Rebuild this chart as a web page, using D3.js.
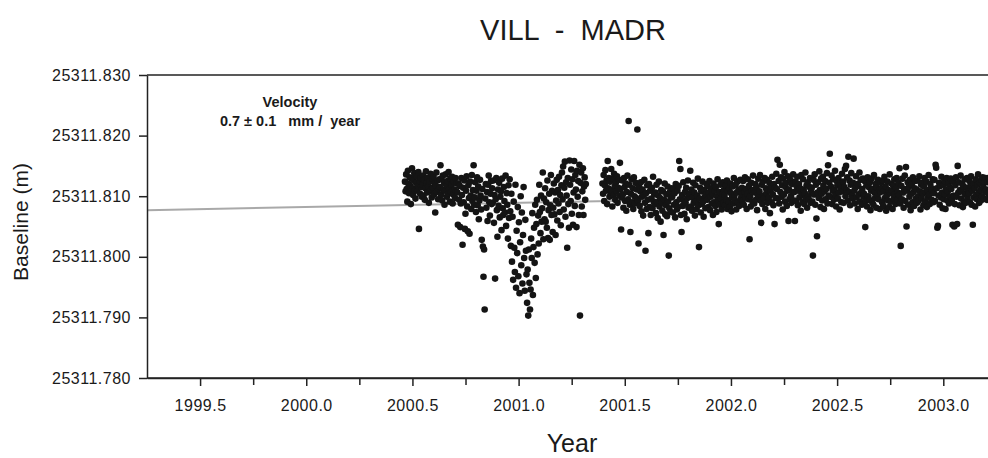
<!DOCTYPE html>
<html>
<head>
    <meta http-equiv="Content-Type" content="text/html; charset=utf-8" />
    <title>VILL - MADR</title>
    <script src="https://d3js.org/d3.v7.min.js"></script>
    <style>
        body { margin: 0; background: #fff; }
        text { font-family: "Liberation Sans", Arial, sans-serif; fill: #1a1a1a; }
    </style>
</head>
<body>
    <script>
        // baseline values are stored as mm above 25311.800 m, one value per daily solution
        var base = 25311.800;
        var seg1Start = 2000.465;
        var seg1 = [
            12.4, 10.8, 13.6, 11.2, 9.1, 14.2, 12.0, 10.5, 13.1, 11.7, 8.7, 12.9, 14.6, 11.3, 10.2, 12.6, 13.8, 11.0, 9.6, 12.2, 13.3, 10.9, 11.8, 14.0, 4.6, 12.5, 10.4, 13.0, 11.5, 9.9,
            11.9, 13.4, 10.1, 12.7, 9.4, 11.3, 14.1, 12.2, 10.6, 13.0, 11.6, 8.9, 12.4, 10.8, 13.7, 11.1, 9.8, 12.9, 11.4, 13.3, 10.3, 12.1, 7.3, 11.7, 13.9, 10.7, 12.6, 9.5, 11.2, 12.8,
            11.5, 15.1, 10.2, 12.8, 9.3, 13.4, 11.0, 12.2, 8.6, 10.9, 13.6, 11.8, 9.9, 12.5, 10.4, 14.0, 11.2, 9.1, 12.9, 10.7, 11.9, 13.2, 8.8, 10.3, 12.4, 11.1, 9.7, 13.0, 10.8, 12.1,
            10.6, 5.3, 12.1, 9.4, 11.7, 4.9, 8.8, 13.0, 10.2, 2.0, 11.4, 9.0, 12.6, 4.6, 7.1, 10.9, 13.3, 8.3, 4.2, 11.8, 9.7, 3.8, 12.4, 10.1, 7.9, 13.5, 9.2, 11.0, 15.1, 8.6,
            9.8, 12.3, 7.4, 10.9, 13.1, 8.5, 11.6, 6.2, 9.3, 12.7, 10.1, 7.8, 2.8, 11.2, 1.7, -3.3, 1.2, -8.7, 9.6, 12.0, 8.1, 10.7, 5.9, 11.9, 13.4, 9.0, 6.8, 10.4, 12.5, 8.7,
            11.3, 8.9, 12.6, 5.6, 10.2, -3.6, 9.5, 13.0, 7.7, 3.3, 11.1, 8.4, 12.2, 6.5, 9.9, 10.8, 4.4, 12.9, 8.0, 6.9, 11.5, 9.2, 7.3, 13.4, 5.1, 10.5, 8.6, 3.0, 11.8, 6.4,
            12.8, 7.5, 1.8, 10.4, -0.8, 6.6, -3.8, 9.1, 1.5, -2.5, 11.9, -5.1, 4.3, 0.6, 8.2, -3.2, 5.7, -6.0, 2.4, 10.0, -1.4, 7.3, -4.4, 3.6, 11.5, -0.2, -5.6, 6.1, 1.0, -2.9,
            -7.6, -2.1, -9.7, 1.2, -4.3, -8.7, -5.4, 3.0, -0.2, 7.2, -6.3, 1.6, 4.8, -1.0, 8.6, -3.5, 5.4, 9.4, 0.4, 6.8, 2.2, 11.9, 7.4, 3.9, 10.1, 5.8, 8.0, 13.9, 2.9, 9.6,
            6.2, 11.3, 5.8, 9.0, 4.8, 12.6, 3.1, 7.7, 10.4, 2.8, 8.5, 13.5, 6.9, 10.9, 4.1, 8.1, 12.1, 7.0, 10.6, 3.6, 9.3, 12.7, 6.0, 11.0, 8.8, 13.2, 7.4, 10.2, 5.2, 11.8,
            13.9, 9.5, 14.9, 7.8, 11.4, 15.7, 6.6, 12.3, 10.1, 1.5, 13.0, 8.7, 4.8, 15.9, 11.9, 9.2, 14.4, 7.1, 12.8, 5.3, 10.6, 15.8, 8.4, 13.5, 11.1, 4.9, 14.2, 9.9, 12.5, 6.9,
            15.2, -9.7, 12.2, 13.9, 8.3, 10.8, 14.6, 6.9, 11.6, 13.1, 9.4, 12.0
        ];
        var seg2Start = 2001.395;
        var seg2 = [
            12.1, 10.4, 13.5, 9.2, 11.8, 14.3, 10.9, 12.6, 8.7, 15.8, 11.3, 13.0, 9.9, 12.4, 10.6, 14.5, 11.0, 8.3, 12.9, 10.2, 13.7, 11.6, 9.4, 12.2, 10.8, 13.3, 8.9, 11.4, 12.7, 10.1,
            15.5, 11.2, 4.5, 9.8, 12.6, 10.3, 8.1, 13.0, 11.5, 9.2, 12.1, 7.6, 10.7, 13.4, 9.5, 22.4, 11.9, 8.6, 4.1, 10.4, 12.8, 9.0, 11.3, 7.9, 13.1, 10.0, 8.8, 12.2, 9.7, 11.1,
            21.0, 9.3, 2.2, 11.6, 8.4, 10.8, 12.3, 7.5, 9.9, 11.1, 6.8, 10.2, 12.7, 8.9, 1.0, 10.5, 7.9, 11.8, 9.4, 3.9, 12.0, 8.2, 10.9, 6.9, 9.6, 11.4, 8.0, 13.2, 9.1, 10.3,
            8.7, 10.6, 7.2, 11.9, 9.0, 6.4, 10.1, 12.4, 8.3, 9.7, 5.8, 11.0, 8.9, 7.6, 10.8, 3.6, 9.4, 12.1, 7.0, 8.5, 10.3, 6.7, 11.6, 9.1, 0.2, 8.0, 10.7, 7.4, 9.8, 11.3,
            9.9, 7.3, 11.2, 8.6, 10.5, 6.5, 12.0, 9.0, 7.8, 10.9, 8.2, 11.7, 15.8, 9.5, 14.5, 6.9, 4.1, 10.2, 8.4, 12.3, 9.3, 7.1, 10.7, 8.9, 11.4, 6.2, 9.7, 12.6, 8.1, 10.0,
            10.4, 14.2, 8.3, 11.1, 7.6, 9.8, 12.2, 8.9, 10.6, 6.8, 11.8, 9.2, 7.9, 10.1, 12.9, 8.5, 1.6, 9.6, 11.4, 7.3, 10.8, 8.7, 12.4, 9.1, 6.6, 11.0, 9.9, 8.0, 10.3, 12.0,
            9.4, 11.7, 8.2, 10.6, 12.5, 7.7, 9.9, 11.2, 8.8, 10.3, 6.9, 12.1, 9.0, 10.9, 8.4, 11.5, 7.4, 10.0, 12.8, 9.3, 5.4, 10.7, 8.6, 11.9, 9.6, 7.8, 10.4, 12.3, 8.9, 11.0,
            10.2, 8.5, 11.8, 9.4, 12.6, 7.9, 10.8, 9.1, 11.3, 8.2, 12.1, 10.5, 7.5, 9.8, 11.6, 8.8, 13.0, 10.1, 9.3, 11.9, 7.8, 10.6, 12.4, 9.0, 11.1, 8.4, 10.9, 12.7, 9.6, 10.3,
            11.4, 9.2, 12.5, 8.6, 10.7, 13.1, 9.8, 11.2, 7.9, 10.4, 12.8, 9.5, 11.7, 2.9, 10.0, 8.3, 12.2, 10.9, 9.1, 13.4, 11.0, 8.8, 10.6, 12.0, 9.4, 11.5, 7.7, 10.2, 12.9, 9.9,
            10.8, 13.5, 9.3, 5.6, 11.9, 8.7, 12.4, 10.1, 9.6, 13.0, 7.9, 11.3, 10.5, 12.7, 8.9, 11.0, 9.8, 12.2, 7.2, 10.9, 11.6, 9.0, 13.2, 10.3, 8.5, 12.0, 5.4, 11.4, 9.7, 13.7,
            11.2, 16.0, 9.6, 12.5, 8.8, 15.2, 10.7, 13.1, 9.9, 11.8, 7.8, 12.9, 10.3, 14.0, 9.1, 11.5, 12.2, 8.4, 10.9, 13.3, 5.9, 11.1, 9.5, 12.7, 10.0, 8.9, 12.0, 10.6, 13.6, 9.3,
            10.7, 5.9, 12.4, 9.2, 11.6, 13.2, 8.5, 10.9, 12.0, 9.8, 11.3, 7.6, 13.5, 10.2, 9.0, 12.8, 11.1, 8.7, 10.5, 13.9, 9.6, 11.8, 8.1, 12.3, 10.0, 9.4, 11.5, 13.0, 8.9, 10.8,
            11.4, 9.1, 0.2, 12.7, 10.3, 13.6, 8.6, 11.9, 6.3, 3.4, 10.6, 12.3, 9.7, 14.1, 11.0, 8.2, 12.9, 10.4, 9.3, 13.2, 11.7, 7.9, 10.8, 12.5, 9.5, 11.2, 13.8, 8.8, 15.1, 10.1,
            12.2, 17.0, 9.9, 11.6, 13.4, 8.7, 10.9, 12.8, 9.4, 11.1, 14.2, 10.2, 8.3, 12.5, 11.8, 9.6, 13.0, 10.6, 7.8, 12.1, 11.3, 9.0, 13.7, 10.8, 12.4, 8.9, 11.5, 14.5, 10.0, 15.0,
            11.0, 13.1, 9.3, 16.5, 10.7, 12.6, 8.5, 11.9, 13.8, 10.1, 9.6, 12.2, 16.2, 10.9, 8.8, 11.4, 13.3, 9.8, 12.0, 7.9, 11.7, 10.3, 13.9, 9.1, 12.7, 10.6, 8.6, 11.2, 12.9, 9.9,
            10.4, 12.5, 4.9, 9.2, 11.8, 8.3, 13.1, 10.0, 11.5, 9.4, 12.3, 7.7, 10.9, 12.9, 9.0, 11.2, 8.6, 13.5, 10.6, 9.7, 12.0, 8.1, 11.4, 10.2, 12.7, 9.5, 11.0, 7.9, 10.7, 12.2,
            11.3, 9.0, 12.6, 8.4, 10.8, 13.2, 9.7, 11.6, 7.6, 10.1, 12.4, 9.3, 11.0, 8.2, 13.6, 10.5, 9.1, 12.1, 10.9, 7.9, 11.8, 9.6, 12.8, 10.3, 8.7, 11.4, 13.0, 9.4, 10.6, 12.2,
            10.2, 14.6, 8.8, 1.8, 11.7, 9.5, 12.9, 10.6, 8.1, 11.2, 13.4, 9.2, 14.8, 5.0, 10.9, 12.3, 8.6, 11.5, 9.9, 12.7, 7.7, 10.4, 11.9, 9.0, 13.1, 10.7, 8.4, 11.3, 12.5, 9.6,
            11.1, 8.9, 12.6, 10.0, 9.3, 13.3, 10.8, 7.8, 11.9, 9.7, 12.2, 10.4, 8.5, 11.6, 13.0, 9.1, 10.7, 12.4, 8.2, 11.0, 9.8, 13.5, 10.3, 8.7, 12.0, 11.4, 9.4, 10.9, 12.8, 9.0,
            10.5, 12.7, 9.2, 15.2, 14.7, 11.3, 4.8, 5.1, 10.1, 12.2, 8.6, 11.7, 9.8, 13.2, 10.6, 8.0, 11.9, 9.5, 12.5, 10.3, 7.9, 11.1, 13.0, 9.3, 10.8, 12.1, 8.8, 11.5, 9.9, 12.9,
            11.2, 9.4, 5.3, 12.4, 10.1, 5.0, 8.7, 11.8, 13.1, 9.9, 5.4, 15.0, 10.6, 12.3, 8.5, 11.0, 13.4, 9.6, 10.8, 12.0, 8.2, 11.6, 9.1, 12.8, 10.3, 8.9, 11.4, 13.0, 9.7, 10.9,
            10.4, 12.5, 9.0, 11.7, 13.3, 8.6, 10.9, 5.3, 12.1, 9.8, 11.3, 8.3, 12.8, 10.2, 9.5, 11.9, 13.6, 10.6, 8.9, 12.2, 11.0, 9.3, 12.7, 10.0, 13.1, 11.5, 9.6, 12.4, 10.8, 13.0,
            11.1, 9.4, 12.3, 10.5, 13.0, 9.8
        ];

        // straight-line fit (0.7 mm / year)
        var trendYears = [1999.25, 2003.3];
        var trendValues = [25311.8077, 25311.8105];

        var yTicks = [25311.780, 25311.790, 25311.800, 25311.810, 25311.820, 25311.830];
        var xMajor = [1999.5, 2000.0, 2000.5, 2001.0, 2001.5, 2002.0, 2002.5, 2003.0];
        var xMinor = [1999.75, 2000.25, 2000.75, 2001.25, 2001.75, 2002.25, 2002.75];

        var title = "VILL  -  MADR";
        var velocityLines = ["Velocity", "0.7 \u00b1 0.1   mm /  year"];

        var w = 988;
        var h = 458;
        var padL = 147, padT = 75, padR = 1007, padB = 378;

        var points = [];
        seg1.forEach(function (v, i) { points.push({ t: seg1Start + i / 365.25, v: base + v / 1000 }); });
        seg2.forEach(function (v, i) { points.push({ t: seg2Start + i / 365.25, v: base + v / 1000 }); });

        var x = d3.scaleLinear().domain([1999.25, 2003.3]).range([padL, padR]);
        var y = d3.scaleLinear().domain([25311.780, 25311.830]).range([padB, padT]);

        var svg = d3.select("body")
            .append("svg")
            .attr("width", w)
            .attr("height", h);

        svg.append("defs").append("clipPath")
            .attr("id", "plot")
            .append("rect")
            .attr("x", padL)
            .attr("y", padT)
            .attr("width", padR - padL)
            .attr("height", padB - padT);

        //趨勢線
        var line = d3.line()
            .x(function (d) { return x(d[0]); })
            .y(function (d) { return y(d[1]); });

        svg.append("path")
            .datum(d3.zip(trendYears, trendValues))
            .attr("clip-path", "url(#plot)")
            .attr("d", line)
            .attr("fill", "none")
            .attr("stroke", "#a9a9a9")
            .attr("stroke-width", 2);

        //資料點
        svg.append("g")
            .attr("clip-path", "url(#plot)")
            .selectAll("circle")
            .data(points)
            .enter()
            .append("circle")
            .attr("cx", function (d) { return x(d.t); })
            .attr("cy", function (d) { return y(d.v); })
            .attr("r", 3.3)
            .attr("fill", "#141414");

        //座標軸
        var yAxis = d3.axisLeft(y)
            .tickValues(yTicks)
            .tickFormat(d3.format(".3f"))
            .tickSize(8)
            .tickSizeOuter(0)
            .tickPadding(8);

        var xAxis = d3.axisBottom(x)
            .tickValues(xMajor)
            .tickFormat(d3.format(".1f"))
            .tickSize(8)
            .tickSizeOuter(0)
            .tickPadding(14);

        var xMinorAxis = d3.axisBottom(x)
            .tickValues(xMinor)
            .tickFormat("")
            .tickSize(7)
            .tickSizeOuter(0);

        var gy = svg.append("g")
            .attr("transform", "translate(" + padL + ",0)")
            .call(yAxis);

        var gx = svg.append("g")
            .attr("transform", "translate(0," + padB + ")")
            .call(xAxis);

        var gxm = svg.append("g")
            .attr("transform", "translate(0," + padB + ")")
            .call(xMinorAxis);

        [gy, gx, gxm].forEach(function (g) {
            g.selectAll("path, line")
                .attr("stroke", "#222")
                .attr("stroke-width", 1.5);
            g.selectAll("text")
                .attr("font-size", 16)
                .attr("letter-spacing", 0.5)
                .attr("fill", "#1a1a1a");
        });
        gx.select(".domain").attr("d", "M" + padL + ",0H" + w);

        //上框線
        svg.append("line")
            .attr("x1", padL)
            .attr("x2", w)
            .attr("y1", padT)
            .attr("y2", padT)
            .attr("stroke", "#222")
            .attr("stroke-width", 1.5);

        //文字
        svg.append("text")
            .attr("x", 573)
            .attr("y", 40)
            .attr("text-anchor", "middle")
            .attr("font-size", 29)
            .style("white-space", "pre")
            .text(title);

        svg.append("text")
            .attr("x", 572)
            .attr("y", 452)
            .attr("text-anchor", "middle")
            .attr("font-size", 25)
            .text("Year");

        svg.append("text")
            .attr("transform", "translate(28,222) rotate(-90)")
            .attr("text-anchor", "middle")
            .attr("font-size", 21)
            .text("Baseline (m)");

        svg.selectAll(".vel")
            .data(velocityLines)
            .enter()
            .append("text")
            .attr("class", "vel")
            .attr("x", 290)
            .attr("y", function (d, i) { return 107 + i * 19; })
            .attr("text-anchor", "middle")
            .attr("font-size", 14.5)
            .attr("font-weight", "bold")
            .style("white-space", "pre")
            .text(function (d) { return d; });
    </script>
</body>
</html>
